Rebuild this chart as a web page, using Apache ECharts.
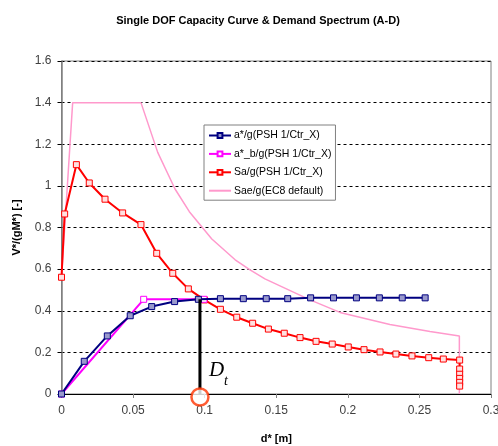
<!DOCTYPE html>
<html>
<head>
<meta charset="utf-8">
<script src="https://cdn.jsdelivr.net/npm/echarts@6/dist/echarts.min.js"></script>
<style>
  html, body { margin: 0; padding: 0; background: #ffffff; }
  #chart { width: 498px; height: 446px; }
</style>
</head>
<body>
<div id="chart"></div>
<script>
// Capacity curve of the equivalent SDOF system (a*/g vs d*)
const capD = [0, 0.0159, 0.032, 0.048, 0.063, 0.079, 0.0956, 0.111, 0.127, 0.143, 0.158, 0.174, 0.190, 0.206, 0.222, 0.238, 0.254];
const capA = [0, 0.157, 0.279, 0.376, 0.420, 0.444, 0.455, 0.458, 0.458, 0.458, 0.458, 0.462, 0.462, 0.462, 0.462, 0.462, 0.462];

// Bilinear idealisation (a*_b/g)
const bilD = [0, 0.0574, 0.0995];
const bilA = [0, 0.455, 0.455];

// Inelastic demand spectrum (Sa/g)
const saD = [0, 0.0022, 0.0104, 0.0194, 0.0304, 0.0427, 0.0555, 0.0665, 0.0777, 0.0886, 0.0998, 0.111, 0.1224, 0.1335,
             0.1445, 0.1556, 0.1666, 0.1778, 0.1891, 0.2003, 0.2113, 0.2225, 0.2336, 0.2448, 0.2565, 0.2667, 0.2781,
             0.2781, 0.2781, 0.2781, 0.2781, 0.2781];
const saA = [0.561, 0.865, 1.102, 1.014, 0.936, 0.870, 0.814, 0.676, 0.580, 0.505, 0.452, 0.407, 0.369, 0.340,
             0.312, 0.292, 0.271, 0.253, 0.240, 0.226, 0.213, 0.202, 0.192, 0.183, 0.1745, 0.168, 0.163,
             0.120, 0.095, 0.075, 0.056, 0.038];

// Elastic EC8 spectrum (Sae/g)
const saeD = [0, 0.0078, 0.0555, 0.0672, 0.0793, 0.0893, 0.105, 0.1213, 0.1317, 0.1421, 0.1736, 0.1945, 0.2294, 0.2574, 0.2779, 0.2779];
const saeA = [0.56, 1.40, 1.40, 1.161, 0.985, 0.876, 0.745, 0.645, 0.596, 0.553, 0.452, 0.392, 0.334, 0.300, 0.279, 0];

// Target displacement
const dtX = 0.0967;
const dtA = 0.455;

const xTicks = [0, 0.05, 0.1, 0.15, 0.2, 0.25, 0.3];
const yTicks = [0, 0.2, 0.4, 0.6, 0.8, 1, 1.2, 1.4, 1.6];

const seriesNames = ['a*/g(PSH 1/Ctr_X)', 'a*_b/g(PSH 1/Ctr_X)', 'Sa/g(PSH 1/Ctr_X)', 'Sae/g(EC8 default)'];

const zip = (xs, ys) => xs.map((x, i) => [x, ys[i]]);
const FONT = 'Arial, "Liberation Sans", sans-serif';
const SERIF = '"Times New Roman", "Liberation Serif", "DejaVu Serif", serif';

const chart = echarts.init(document.getElementById('chart'), null, { renderer: 'canvas' });

chart.setOption({
  animation: false,
  backgroundColor: '#ffffff',
  grid: {
    left: 61.5, right: 7, top: 61, bottom: 52,
    outerBoundsMode: 'none', containLabel: false,
    show: true, borderColor: '#808080', borderWidth: 1, backgroundColor: 'transparent'
  },
  legend: {
    orient: 'vertical',
    left: 204, top: 125,
    width: 130,
    padding: [5, 4, 4, 4],
    itemGap: 7.4,
    itemWidth: 22, itemHeight: 6,
    backgroundColor: '#ffffff',
    borderColor: '#808080', borderWidth: 1,
    textStyle: { fontFamily: FONT, fontSize: 10.5, color: '#000000', padding: [0, 0, 0, -2] },
    data: [
      seriesNames[0], seriesNames[1], seriesNames[2],
      { name: seriesNames[3], itemStyle: { opacity: 0 } }
    ]
  },
  xAxis: {
    type: 'value', min: xTicks[0], max: xTicks[xTicks.length - 1], interval: 0.05,
    name: 'd* [m]', nameLocation: 'middle', nameGap: 39,
    nameTextStyle: { fontFamily: FONT, fontSize: 11, fontWeight: 'bold', color: '#000000' },
    axisLine: { show: true, onZero: false, lineStyle: { color: '#000000', width: 1 } },
    axisTick: { show: true, length: 4, inside: false, lineStyle: { color: '#808080' } },
    axisLabel: { margin: 11, fontFamily: FONT, fontSize: 12, color: '#404040',
      formatter: v => String(+v.toFixed(2)) },
    splitLine: { show: false }
  },
  yAxis: {
    type: 'value', min: yTicks[0], max: yTicks[yTicks.length - 1], interval: 0.2,
    name: 'V*/(gM*) [-]', nameLocation: 'middle', nameGap: 39, nameRotate: 90,
    nameTextStyle: { fontFamily: FONT, fontSize: 11, fontWeight: 'bold', color: '#000000' },
    axisLine: { show: true, lineStyle: { color: '#808080', width: 1.5 } },
    axisTick: { show: true, length: 4, inside: false, lineStyle: { color: '#000000' } },
    axisLabel: { margin: 10, fontFamily: FONT, fontSize: 12, color: '#404040',
      formatter: v => String(+v.toFixed(1)) },
    splitLine: { show: true, lineStyle: { color: '#000000', type: [3, 3], width: 1 } }
  },
  series: [
    {
      name: seriesNames[3], type: 'line', data: zip(saeD, saeA), z: 2,
      showSymbol: false, symbol: 'none',
      lineStyle: { color: '#FF99CC', width: 1.5 }, itemStyle: { color: '#FF99CC' }
    },
    {
      name: seriesNames[2], type: 'line', data: zip(saD, saA), z: 3,
      symbol: 'rect', symbolSize: 6, showAllSymbol: true,
      lineStyle: { color: '#FF0000', width: 2 },
      itemStyle: { color: '#FFE0E0', borderColor: '#FF0000', borderWidth: 1 }
    },
    {
      name: seriesNames[1], type: 'line', data: zip(bilD, bilA), z: 4,
      symbol: 'rect', symbolSize: 6, showAllSymbol: true,
      lineStyle: { color: '#FF00FF', width: 2 },
      itemStyle: { color: '#FFFFFF', borderColor: '#FF00FF', borderWidth: 1 }
    },
    {
      name: seriesNames[0], type: 'line', data: zip(capD, capA), z: 5,
      symbol: 'rect', symbolSize: 6, showAllSymbol: true,
      lineStyle: { color: '#000080', width: 2 },
      itemStyle: { color: '#9999CC', borderColor: '#000080', borderWidth: 1 }
    },
    {
      name: 'Dt', type: 'line', data: [[dtX, dtA], [dtX, 0]], z: 6,
      symbol: 'none', silent: true,
      lineStyle: { color: '#000000', width: 3 }
    },
    {
      name: 'DtMark', type: 'scatter', data: [[dtX, 0]], z: 7,
      symbol: 'circle', symbolSize: 17, symbolOffset: [0, 3], silent: true,
      itemStyle: { color: '#FFFFFF', borderColor: '#FF3300', borderWidth: 2.5 }
    }
  ]
});

// Title and the D_t annotation, positioned from data coordinates
const anchor = chart.convertToPixel({ gridIndex: 0 }, [dtX, 0.115]);
chart.setOption({
  graphic: [
    {
      type: 'text', x: 258, y: 21,
      style: { text: 'Single DOF Capacity Curve & Demand Spectrum (A-D)', font: 'bold 11px ' + FONT,
        fill: '#000000', align: 'center', verticalAlign: 'middle' }
    },
    {
      type: 'text', x: anchor[0] + 9, y: anchor[1],
      style: { text: 'D', font: 'italic 21px ' + SERIF, fill: '#000000', align: 'left', verticalAlign: 'middle' }
    },
    {
      type: 'text', x: anchor[0] + 24, y: anchor[1] + 11,
      style: { text: 't', font: 'italic 14px ' + SERIF, fill: '#000000', align: 'left', verticalAlign: 'middle' }
    }
  ]
});
</script>
</body>
</html>
